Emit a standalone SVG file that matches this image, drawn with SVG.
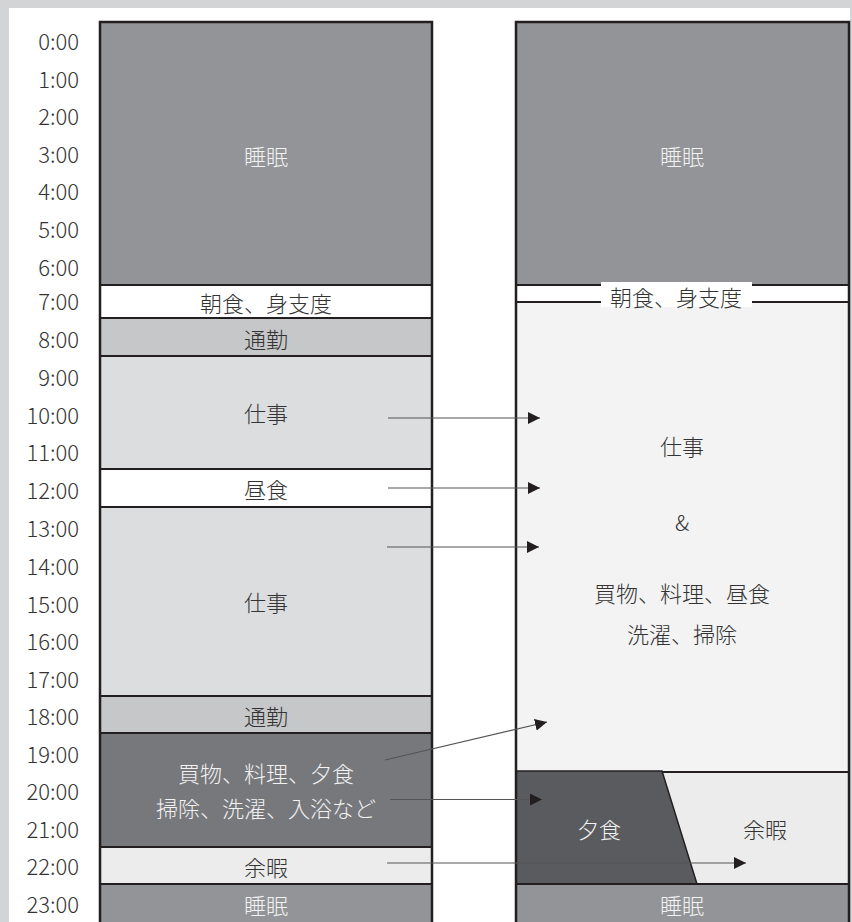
<svg xmlns="http://www.w3.org/2000/svg" width="852" height="922" viewBox="0 0 852 922">
<defs>
<marker id="ah" markerWidth="12" markerHeight="12" refX="12" refY="6" orient="auto" markerUnits="userSpaceOnUse">
<path d="M0,0 L12,6 L0,12 Z" fill="#231f20"/>
</marker>
<style>
text{font-family:"Noto Sans CJK JP","Noto Sans",sans-serif;font-size:22px;font-weight:300;dominant-baseline:central;}
.t{fill:#333;text-anchor:end;}
.d{fill:#333;text-anchor:middle;}
.w{fill:#f2f2f2;text-anchor:middle;}
.b{stroke:#231f20;stroke-width:2;}
.o{fill:none;stroke:#231f20;stroke-width:2.5;}
.c{stroke:#555;stroke-width:1.2;fill:none;marker-end:url(#ah);}
</style>
</defs>
<rect x="0" y="0" width="852" height="922" fill="#d3d4d6"/>
<rect x="9" y="8" width="841" height="914" fill="#ffffff"/>
<g id="timeline">
<text class="t" x="79" y="40">0:00</text>
<text class="t" x="79" y="77.5">1:00</text>
<text class="t" x="79" y="115">2:00</text>
<text class="t" x="79" y="152.6">3:00</text>
<text class="t" x="79" y="190.1">4:00</text>
<text class="t" x="79" y="227.6">5:00</text>
<text class="t" x="79" y="266">6:00</text>
<text class="t" x="79" y="300">7:00</text>
<text class="t" x="79" y="338">8:00</text>
<text class="t" x="79" y="376">9:00</text>
<text class="t" x="79" y="413.5">10:00</text>
<text class="t" x="79" y="451">11:00</text>
<text class="t" x="79" y="489">12:00</text>
<text class="t" x="79" y="527">13:00</text>
<text class="t" x="79" y="565">14:00</text>
<text class="t" x="79" y="602.5">15:00</text>
<text class="t" x="79" y="640">16:00</text>
<text class="t" x="79" y="677.5">17:00</text>
<text class="t" x="79" y="715">18:00</text>
<text class="t" x="79" y="752.5">19:00</text>
<text class="t" x="79" y="790">20:00</text>
<text class="t" x="79" y="827.5">21:00</text>
<text class="t" x="79" y="865">22:00</text>
<text class="t" x="79" y="903">23:00</text>
</g>
<g id="left-column">
<g id="L-sleep1"><rect x="100" y="22" width="332" height="263" fill="#939497"/><text class="w" x="266" y="155">睡眠</text></g>
<g id="L-breakfast"><rect x="100" y="285" width="332" height="33" fill="#ffffff"/><text class="d" x="266" y="302">朝食、身支度</text></g>
<g id="L-commute1"><rect x="100" y="318" width="332" height="38" fill="#c6c7c9"/><text class="d" x="266" y="338">通勤</text></g>
<g id="L-work1"><rect x="100" y="356" width="332" height="113" fill="#dcdddf"/><text class="d" x="266" y="412">仕事</text></g>
<g id="L-lunch"><rect x="100" y="469" width="332" height="38" fill="#ffffff"/><text class="d" x="266" y="488">昼食</text></g>
<g id="L-work2"><rect x="100" y="507" width="332" height="189" fill="#dcdddf"/><text class="d" x="266" y="601">仕事</text></g>
<g id="L-commute2"><rect x="100" y="696" width="332" height="37" fill="#c6c7c9"/><text class="d" x="266" y="715">通勤</text></g>
<g id="L-chores"><rect x="100" y="733" width="332" height="114" fill="#77787c"/><text class="w" x="266" y="772">買物、料理、夕食</text><text class="w" x="266" y="807">掃除、洗濯、入浴など</text></g>
<g id="L-leisure"><rect x="100" y="847" width="332" height="37" fill="#ececec"/><text class="d" x="266" y="866">余暇</text></g>
<g id="L-sleep2"><rect x="100" y="884" width="332" height="40" fill="#939497"/><text class="w" x="266" y="904">睡眠</text></g>
<g id="L-lines">
<line class="b" x1="100" y1="285" x2="433" y2="285"/>
<line class="b" x1="100" y1="318" x2="433" y2="318"/>
<line class="b" x1="100" y1="356" x2="433" y2="356"/>
<line class="b" x1="100" y1="469" x2="433" y2="469"/>
<line class="b" x1="100" y1="507" x2="433" y2="507"/>
<line class="b" x1="100" y1="696" x2="433" y2="696"/>
<line class="b" x1="100" y1="733" x2="433" y2="733"/>
<line class="b" x1="100" y1="847" x2="433" y2="847"/>
<line class="b" x1="100" y1="884" x2="433" y2="884"/>
<path class="o" d="M100,924 V22 H432 V924"/>
</g>
</g>
<g id="right-column">
<g id="R-sleep1"><rect x="516" y="22" width="333" height="263" fill="#939497"/><text class="w" x="682" y="155">睡眠</text></g>
<g id="R-breakfast"><rect x="516" y="285" width="333" height="17" fill="#ffffff"/></g>
<g id="R-work"><rect x="516" y="302" width="333" height="469" fill="#f2f3f2"/><text class="d" x="682" y="445">仕事</text><text class="d" x="682" y="521">&amp;</text><text class="d" x="682" y="592">買物、料理、昼食</text><text class="d" x="682" y="633">洗濯、掃除</text></g>
<g id="R-leisure"><rect x="516" y="771" width="333" height="113" fill="#ececec"/><text class="d" x="765" y="828">余暇</text></g>
<g id="R-dinner"><polygon points="516,771 662,771 697,884 516,884" fill="#5a5b5e" stroke="#231f20" stroke-width="1.5"/><text class="w" x="599" y="828">夕食</text></g>
<g id="R-sleep2"><rect x="516" y="884" width="333" height="40" fill="#939497"/><text class="w" x="682" y="904">睡眠</text></g>
<g id="R-lines">
<line class="b" x1="516" y1="285" x2="849" y2="285"/>
<line class="b" x1="516" y1="302" x2="849" y2="302"/>
<line class="b" x1="662" y1="772" x2="849" y2="772"/>
<line class="b" x1="516" y1="884" x2="849" y2="884"/>
<path class="o" d="M516,924 V22 H849 V924"/>
</g>
<g id="R-breakfast-label"><rect x="601" y="282" width="151" height="25" fill="#ffffff"/><text class="d" x="676" y="296">朝食、身支度</text></g>
</g>
<g id="connectors">
<line class="c" x1="388" y1="418" x2="540" y2="418"/>
<line class="c" x1="388" y1="488" x2="540" y2="488"/>
<line class="c" x1="387" y1="547" x2="539" y2="547"/>
<line class="c" x1="385" y1="760" x2="547" y2="722"/>
<line class="c" x1="390" y1="799.5" x2="542" y2="799.5"/>
<line class="c" x1="387" y1="863" x2="746" y2="863"/>
</g>
</svg>
